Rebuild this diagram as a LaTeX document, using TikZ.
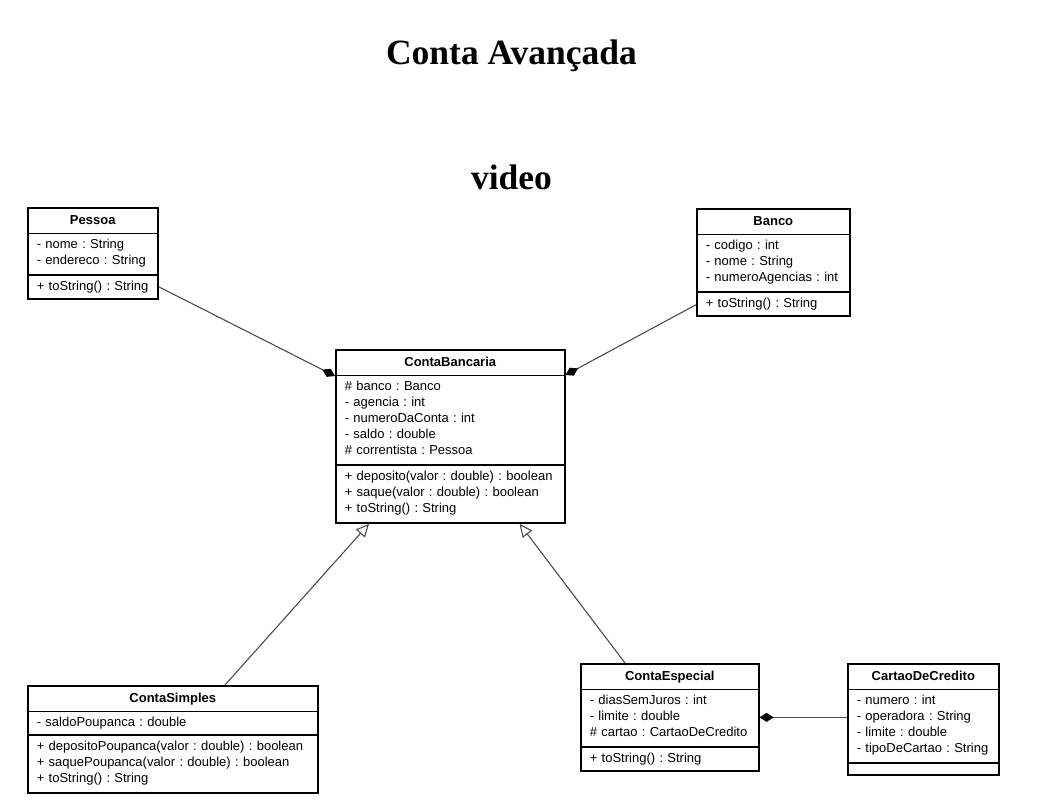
\documentclass[tikz,border=0pt]{standalone}
\usepackage{fontspec}
\setmainfont{Liberation Serif}
\setsansfont{Liberation Sans}
\usetikzlibrary{shapes.multipart,arrows.meta,calc}
\newcommand{\classfont}{\sffamily\fontsize{13}{16}\selectfont\frenchspacing\parindent=0pt\everypar{\strut}}
\newcommand{\classname}[1]{{\everypar{}\leavevmode\vrule height 10.5pt depth 3.5pt width 0pt\hfill\textbf{#1}\hfill\null}}

\begin{document}
\begin{tikzpicture}[x=1pt,y=-1pt,
    umlclass/.style={rectangle split,rectangle split parts=3,draw=black,line width=1.6pt,
      anchor=north west,inner xsep=9pt,inner ysep=5pt,align=left,font=\classfont},
    composition/.style={draw=black!70,line width=1.1pt,-{Diamond[length=14pt,width=9pt,color=black]}},
    inherits/.style={draw=black!70,line width=1.1pt,-{Triangle[open,length=13pt,width=12pt,fill=white]}}]
  \useasboundingbox (0,0) rectangle (1044,810);
  % titulos
  \node[font=\bfseries\fontsize{35.5}{40}\selectfont,anchor=base] (titulo) at (511.5,65) {Conta Avançada};
  \node[font=\bfseries\fontsize{35.5}{40}\selectfont,anchor=base] (video) at (511.5,190) {video};
  % classes
  \node[umlclass,text width=112pt] (pessoa) at (27,207)
    {\classname{Pessoa}
     \nodepart{two} - nome : String\par - endereco : String
     \nodepart{three} + toString() : String};
  \node[umlclass,text width=135pt] (banco) at (696,208)
    {\classname{Banco}
     \nodepart{two} - codigo : int\par - nome : String\par - numeroAgencias : int
     \nodepart{three} + toString() : String};
  \node[umlclass,text width=211pt] (bancaria) at (335,349)
    {\classname{ContaBancaria}
     \nodepart{two} \# banco : Banco\par - agencia : int\par - numeroDaConta : int\par
       - saldo : double\par \# correntista : Pessoa
     \nodepart{three} + deposito(valor : double) : boolean\par
       + saque(valor : double) : boolean\par + toString() : String};
  \node[umlclass,text width=272pt] (simples) at (27,685)
    {\classname{ContaSimples}
     \nodepart{two} - saldoPoupanca : double
     \nodepart{three} + depositoPoupanca(valor : double) : boolean\par
       + saquePoupanca(valor : double) : boolean\par + toString() : String};
  \node[umlclass,text width=160pt] (especial) at (580,663)
    {\classname{ContaEspecial}
     \nodepart{two} - diasSemJuros : int\par - limite : double\par \# cartao : CartaoDeCredito
     \nodepart{three} + toString() : String};
  \node[umlclass,text width=133pt] (cartao) at (847,663)
    {\classname{CartaoDeCredito}
     \nodepart{two} - numero : int\par - operadora : String\par - limite : double\par
       - tipoDeCartao : String
     \nodepart{three}};
  % relacoes
  \draw[composition] ($(pessoa.south east)+(0,-13)$) -- ($(bancaria.north west)+(0,27)$);
  \draw[composition] ($(banco.south west)+(0,-12)$) -- ($(bancaria.north east)+(0,26)$);
  \draw[inherits] ($(simples.north west)+(198,0)$) -- ($(bancaria.south west)+(34,0)$);
  \draw[inherits] ($(especial.north west)+(45,0)$) -- ($(bancaria.south east)+(-46,0)$);
  \draw[composition] (cartao.west |- especial.east) -- (especial.east);
\end{tikzpicture}
\end{document}
